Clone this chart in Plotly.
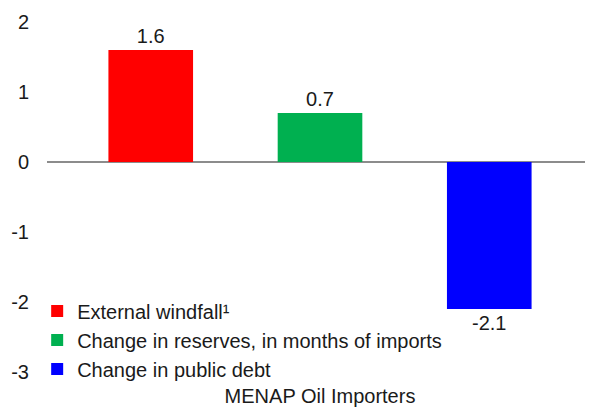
import plotly.graph_objects as go

category = ["MENAP Oil Importers"]
series_names = ["External windfall¹", "Change in reserves, in months of imports", "Change in public debt"]
series_values = [1.6, 0.7, -2.1]
series_colors = ["#FF0000", "#00B050", "#0000FF"]
y_ticks = [-3, -2, -1, 0, 1, 2]
y_tick_labels = ["-3", "-2", "-1", "0", "1", "2"]

fig = go.Figure()
for i, (name, val, col) in enumerate(zip(series_names, series_values, series_colors)):
    fig.add_trace(go.Bar(
        x=category, y=[val], name=name, marker_color=col, marker_line_width=0,
        text=[f"{val:.1f}"], textposition="outside", cliponaxis=False,
        textfont=dict(size=20, color="#1a1a1a"), legendgroup=f"g{i}",
    ))

fig.update_layout(
    width=585, height=402,
    margin=dict(l=39, r=0, t=14, b=38),
    paper_bgcolor="white", plot_bgcolor="white",
    barmode="group", bargap=0.07, bargroupgap=0.5,
    font=dict(family="Liberation Sans, Arial, sans-serif", size=20, color="#1a1a1a"),
    showlegend=True,
    legend=dict(x=-0.018, y=0.23, xanchor="left", yanchor="top",
                bgcolor="rgba(0,0,0,0)", tracegroupgap=0,
                font=dict(size=20, color="#1a1a1a"), itemwidth=30),
    uniformtext=dict(minsize=10, mode="show"),
)
fig.update_xaxes(showgrid=False, showline=False, ticks="", ticklabelstandoff=10,
                 tickfont=dict(size=20, color="#1a1a1a"))
fig.update_yaxes(range=[-3, 2], tickvals=y_ticks, ticktext=y_tick_labels,
                 showgrid=False, showline=False,
                 zeroline=True, zerolinecolor="#8c8c8c", zerolinewidth=2,
                 ticks="", ticklabelstandoff=17, tickfont=dict(size=20, color="#1a1a1a"))

fig.write_html("out.html")
